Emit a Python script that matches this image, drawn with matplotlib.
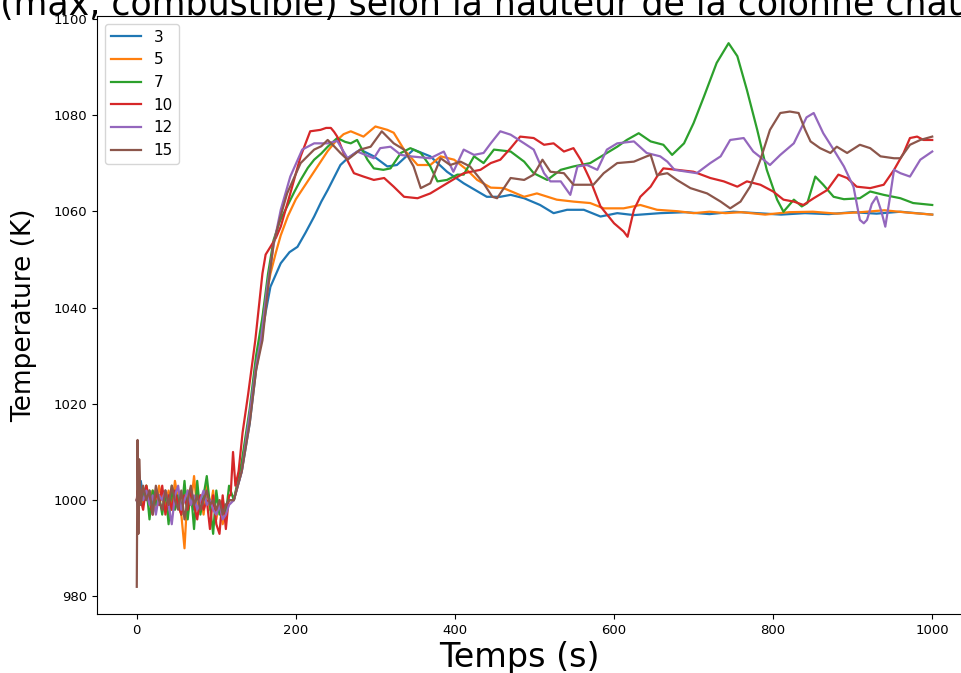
import numpy as np
import matplotlib
matplotlib.use("Agg")
import matplotlib.pyplot as plt

labels = ["3", "5", "7", "10", "12", "15"]
colors = ["#1f77b4", "#ff7f0e", "#2ca02c", "#d62728", "#9467bd", "#8c564b"]

# noisy start (same time grid for every height)
t_noise = [0, 1, 2, 3, 5, 8, 12, 16, 20, 24, 28, 32, 36, 40, 44, 48, 52,
           56, 60, 64, 68, 72, 76, 80, 84, 88, 92, 96, 100, 104, 108, 112, 116]

noise_3 = [1000, 999, 997, 1002, 1004, 1001, 1000, 1002, 999, 1001, 1000,
           1002, 1001, 999, 1000, 1002, 1001, 999, 1000, 1001, 1000, 998,
           1001, 1000, 999, 1001, 1000, 999, 1000, 999, 998, 999, 1000]
noise_5 = [1000, 1001, 999, 1003, 1001, 999, 1003, 1000, 1002, 998, 1003,
           1000, 999, 1002, 998, 1004, 1000, 997, 990, 1002, 999, 1005,
           998, 1001, 997, 1003, 998, 1002, 996, 1000, 995, 998, 1000]
noise_7 = [1000, 1001, 1003, 999, 1002, 1000, 1003, 996, 1002, 999, 1001,
           997, 1002, 995, 1003, 998, 1001, 997, 1004, 996, 1002, 994,
           1004, 997, 1001, 1005, 999, 993, 1002, 997, 1000, 997, 1003]
noise_10 = [1000, 1002, 999, 1001, 1000, 998, 1003, 1000, 997, 1002, 999,
            1003, 997, 1001, 998, 1002, 999, 997, 1001, 998, 1002, 999,
            996, 1001, 998, 1000, 994, 1001, 995, 993, 1001, 994, 1001]
noise_12 = [1000, 1001, 1000, 1002, 1001, 1000, 1002, 999, 1001, 997, 1001,
            1000, 1002, 999, 995, 1001, 1003, 998, 1000, 1002, 999, 1001,
            998, 1000, 1002, 999, 1000, 998, 997, 999, 996, 997, 999]
noise_15 = [982, 1012.5, 993, 1008.5, 999, 1003, 1000, 1002, 997, 1003, 1000,
            998, 1002, 999, 1003, 1000, 998, 1002, 996, 1000, 1003, 999,
            1001, 998, 1000, 1002, 999, 1000, 998, 1000, 997, 999, 1000]

# after heating starts
t_3 = [122, 132, 142, 150, 156, 162, 168, 181, 192, 202, 212, 223, 232, 240,
       248, 256, 265, 281, 298, 315, 327, 348, 369, 390, 411, 440, 457, 470,
       487, 507, 524, 541, 562, 583, 604, 625, 658, 690, 720, 750, 780, 810,
       840, 870, 900, 930, 960, 980, 1000]
temp_3 = [1000, 1006, 1016, 1027, 1033, 1039, 1044.3, 1049.2, 1051.5, 1052.6,
          1055.5, 1058.9, 1062, 1064.4, 1067, 1069.6, 1071, 1072.8, 1071.4,
          1069.3, 1069.6, 1072.8, 1071.4, 1068.2, 1065.8, 1063, 1063, 1063.4,
          1062.7, 1061.3, 1059.6, 1060.3, 1060.3, 1058.9, 1059.6, 1059.2,
          1059.6, 1059.8, 1059.4, 1059.9, 1059.6, 1059.3, 1059.6, 1059.4,
          1059.8, 1059.5, 1059.9, 1059.6, 1059.3]

t_5 = [122, 132, 142, 152, 160, 168, 175, 181, 190, 200, 210, 220, 230, 240,
       250, 260, 269, 285, 300, 315, 323, 336, 353, 369, 382, 399, 415, 428,
       445, 461, 487, 503, 528, 549, 570, 587, 612, 633, 654, 680, 700, 720,
       740, 760, 790, 820, 850, 880, 910, 940, 970, 1000]
temp_5 = [1000, 1007, 1018, 1030, 1040, 1047, 1051.5, 1055, 1059, 1062.5,
          1065, 1067.5, 1070, 1072.5, 1074.5, 1076, 1076.6, 1075.5, 1077.6,
          1076.9, 1076.3, 1072.8, 1069.6, 1069.6, 1071.4, 1070.7, 1068.6,
          1066.5, 1064.9, 1064.8, 1063, 1063.7, 1062.4, 1062, 1061.7, 1060.6,
          1060.6, 1061.3, 1060.3, 1060, 1059.6, 1059.9, 1059.6, 1059.8,
          1059.3, 1059.8, 1059.9, 1059.5, 1059.8, 1060.2, 1059.7, 1059.3]

t_7 = [122, 132, 142, 150, 158, 165, 172, 180, 189, 198, 206, 215, 223, 232,
       240, 252, 262, 269, 277, 290, 298, 310, 319, 332, 344, 357, 369, 378,
       390, 403, 411, 424, 436, 449, 470, 487, 499, 516, 533, 549, 570, 587,
       604, 616, 631, 646, 662, 673, 688, 700, 713, 729, 744, 755, 767, 780,
       792, 805, 813, 826, 836, 843, 853, 863, 876, 889, 909, 922, 939, 960,
       976, 1000]
temp_7 = [1000, 1008, 1019, 1030, 1038, 1047, 1054, 1058, 1061, 1064, 1066.5,
          1069, 1070.7, 1072, 1073.4, 1075.2, 1074.4, 1074.1, 1074.8, 1070.7,
          1068.9, 1068.6, 1068.9, 1072.1, 1073.1, 1072.1, 1069.3, 1066.2,
          1066.5, 1067.6, 1067.6, 1071.4, 1070, 1072.8, 1072.4, 1070.3,
          1067.9, 1066.5, 1068.6, 1069.3, 1070, 1071.7, 1073.4, 1074.8,
          1076.2, 1074.5, 1073.8, 1071.7, 1074.1, 1078.3, 1083.8, 1090.8,
          1094.9, 1092.2, 1085.2, 1076.9, 1068.6, 1062.4, 1059.9, 1062.4,
          1061, 1061.7, 1067.2, 1065.5, 1063, 1062.5, 1062.7, 1064.1, 1063.4,
          1062.7, 1061.7, 1061.3]

t_10 = [118, 121, 124, 128, 133, 140, 149, 158, 162, 168, 175, 181, 193, 206,
        218, 231, 238, 244, 248, 252, 260, 273, 285, 298, 311, 323, 336, 353,
        369, 390, 411, 432, 445, 457, 470, 482, 499, 512, 524, 537, 549, 558,
        570, 583, 600, 612, 617, 625, 633, 646, 654, 662, 679, 700, 721, 738,
        755, 767, 784, 800, 813, 826, 838, 851, 868, 882, 893, 905, 922, 939,
        952, 964, 972, 981, 989, 1000]
temp_10 = [1001, 1010, 1003, 1006, 1014, 1022, 1033.2, 1047.1, 1051, 1052.6,
           1054.5, 1056.8, 1063.7, 1071.4, 1076.6, 1076.9, 1077.3, 1077.3,
           1076.5, 1075.5, 1072.1, 1067.9, 1067.2, 1066.5, 1066.9, 1065.1,
           1063, 1062.7, 1063.7, 1065.8, 1067.9, 1068.6, 1070, 1070.7, 1073.1,
           1075.5, 1075.2, 1073.8, 1074.1, 1072.4, 1073.1, 1070.7, 1066.5,
           1061, 1057.5, 1055.8, 1054.7, 1060.3, 1063, 1065.1, 1067.2, 1068.9,
           1068.6, 1068.2, 1066.9, 1066.2, 1065.1, 1066.2, 1065.5, 1064.1,
           1062.4, 1062, 1061.3, 1062.7, 1064.4, 1067.6, 1066.9, 1065.1,
           1064.8, 1065.5, 1068.6, 1072.1, 1075.2, 1075.5, 1074.8, 1074.8]

t_12 = [122, 132, 142, 150, 156, 164, 172, 181, 193, 208, 223, 240, 252, 265,
        277, 298, 306, 319, 332, 344, 369, 386, 398, 411, 424, 436, 445, 457,
        470, 487, 499, 512, 520, 533, 545, 554, 566, 579, 591, 604, 625, 641,
        658, 667, 676, 704, 721, 734, 746, 763, 775, 788, 796, 809, 826, 842,
        851, 863, 876, 889, 901, 909, 914, 918, 924, 930, 936, 941, 946, 952,
        960, 972, 985, 1000]
temp_12 = [1000, 1006, 1018, 1028, 1033.2, 1044.3, 1053, 1060.3, 1067.2,
           1072.8, 1074.1, 1074.1, 1074.6, 1071, 1072.4, 1071, 1073.1, 1073.4,
           1071.7, 1071.4, 1071, 1072.4, 1068.2, 1072.8, 1071.7, 1072.1,
           1074.1, 1076.6, 1075.9, 1074.1, 1072.8, 1067.9, 1066.2, 1066.2,
           1063.4, 1069.3, 1069.6, 1068.6, 1072.8, 1074.1, 1074.5, 1072.1,
           1071.4, 1070.3, 1068.6, 1067.9, 1070, 1071.4, 1074.8, 1075.2,
           1072.4, 1070.7, 1069.6, 1071.7, 1074.1, 1079.5, 1080.4, 1076.2,
           1072.8, 1069.3, 1065.1, 1058.2, 1057.5, 1058.2, 1061.5, 1063, 1060,
           1056.8, 1062, 1068.6, 1067.9, 1067.2, 1070.7, 1072.4]

t_15 = [122, 132, 142, 150, 158, 165, 172, 180, 189, 206, 223, 232, 240, 248,
        256, 265, 281, 294, 308, 323, 336, 348, 357, 369, 382, 394, 407, 419,
        436, 447, 453, 470, 487, 499, 510, 520, 537, 549, 574, 587, 604, 625,
        641, 646, 654, 667, 679, 696, 717, 734, 746, 759, 771, 784, 796, 809,
        821, 832, 840, 847, 859, 872, 880, 893, 909, 922, 935, 952, 960, 972,
        985, 1000]
temp_15 = [1000, 1006, 1016, 1027, 1033.2, 1044, 1053.3, 1058.5, 1063.7, 1070,
           1072.8, 1073.5, 1074.8, 1073.5, 1072.1, 1070.7, 1072.8, 1073.4,
           1076.6, 1074.1, 1072.8, 1069.3, 1064.8, 1065.8, 1071, 1069.6,
           1070.3, 1069.3, 1065.8, 1063, 1062.7, 1066.9, 1066.5, 1067.6,
           1070.7, 1068.2, 1067.9, 1065.5, 1065.5, 1067.9, 1070, 1070.3,
           1071.4, 1071.7, 1067.5, 1067.9, 1066.5, 1064.8, 1063.7, 1062,
           1060.6, 1062, 1065.1, 1070.7, 1076.9, 1080.4, 1080.7, 1080.4, 1077,
           1074.5, 1073.1, 1072.1, 1073.4, 1072.1, 1073.8, 1073.1, 1071.4,
           1071, 1071, 1073.8, 1074.8, 1075.5]

series = [
    (noise_3, t_3, temp_3),
    (noise_5, t_5, temp_5),
    (noise_7, t_7, temp_7),
    (noise_10, t_10, temp_10),
    (noise_12, t_12, temp_12),
    (noise_15, t_15, temp_15),
]

title = "Température (max, combustible) selon la hauteur de la colonne chauffante"
prefix = "Température "

fig = plt.figure(figsize=(9.61, 6.73), dpi=100)
ax = fig.add_axes([97 / 961, 1 - 614 / 673, 875 / 961, 598 / 673])

for (noise, t, temp), lab, col in zip(series, labels, colors):
    x = np.concatenate([t_noise, t])
    y = np.concatenate([noise, temp])
    ax.plot(x, y, color=col, label=lab, linewidth=1.6)

ax.tick_params(labelsize=9.5)
ax.set_xlabel("Temps (s)", fontsize=24)
ax.xaxis.set_label_coords(0.483, -0.045, transform=ax.transAxes)
ax.xaxis.label.set_va("top")
ax.set_ylabel("Temperature (K)", fontsize=19, labelpad=12)
ax.legend(loc="upper left", fontsize=11)

# title is wider than the figure: hide the start, like the original
fig.canvas.draw()
r = fig.canvas.get_renderer()
tmp = fig.text(0, 0, prefix, fontsize=25)
w = tmp.get_window_extent(r).width
tmp.remove()
fig.text(-w / 961, 1 - 15 / 673, title, fontsize=25, ha="left", va="baseline")

fig.savefig("out.png", dpi=100)
